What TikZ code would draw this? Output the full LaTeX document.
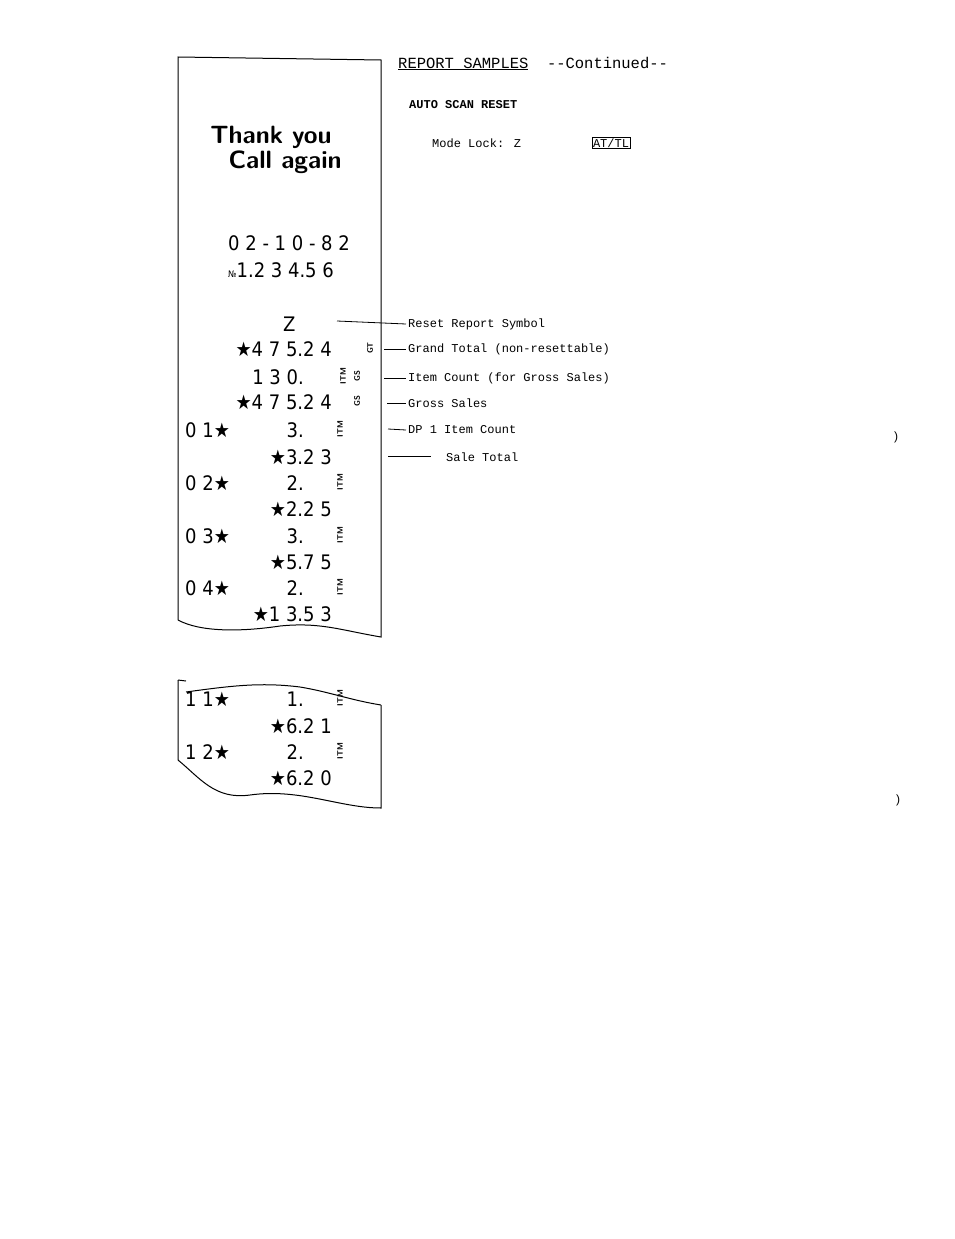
\documentclass[tikz,border=0pt]{standalone}
\usepackage{fontspec}
\setmainfont{Liberation Sans}
\newfontfamily\mono{Liberation Mono}
\newfontfamily\rcpt{DejaVu Sans Condensed}
\begin{document}
\begin{tikzpicture}[x=1pt,y=-1pt,
  paper/.style={line width=1pt},
  rn/.style={font=\rcpt\fontsize{20}{20}\selectfont, anchor=base east, inner sep=0pt},
  rl/.style={font=\rcpt\fontsize{20}{20}\selectfont, anchor=base west, inner sep=0pt},
  tag/.style={font=\sffamily\bfseries\fontsize{8}{8}\selectfont, rotate=90, inner sep=0pt},
  lab/.style={font=\mono\fontsize{12}{12}\selectfont, anchor=west, inner sep=0pt},
  ln/.style={line width=0.8pt}]
\useasboundingbox (0,0) rectangle (954,1239);
% receipt 1
\draw[paper] (178,620) -- (178,57) -- (381,60) -- (381,637)
  .. controls (340,630) and (320,622) .. (280,626)
  .. controls (240,632) and (200,632) .. (178,620);
\node[font=\sffamily\bfseries\fontsize{25}{25}\selectfont, align=left] (ty) at (276,150) {Thank you\\\ \ Call again};
\node[rl] (date) at (228,250) {0 2 - 1 0 - 8 2};
\node[rl] (no) at (228,277) {{\fontsize{9}{9}\selectfont №}1.2 3 4.5 6};
\node[rl] (z) at (283,331) {Z};
\node[rn] (gt) at (332,356) {★4 7 5.2 4};
\node[rn] (ic) at (304,384) {1 3 0.};
\node[rn] (gs) at (332,409) {★4 7 5.2 4};
\node[rl] (d1) at (185,437) {0 1★};
\node[rn] (c1) at (304,437) {3.};
\node[rn] (t1) at (332,464) {★3.2 3};
\node[rl] (d2) at (185,490) {0 2★};
\node[rn] (c2) at (304,490) {2.};
\node[rn] (t2) at (332,516) {★2.2 5};
\node[rl] (d3) at (185,543) {0 3★};
\node[rn] (c3) at (304,543) {3.};
\node[rn] (t3) at (332,569) {★5.7 5};
\node[rl] (d4) at (185,595) {0 4★};
\node[rn] (c4) at (304,595) {2.};
\node[rn] (t4) at (332,621) {★1 3.5 3};
\node[tag] (tgt) at (370,348) {GT};
\node[tag] (tim0) at (343,376) {ITM};
\node[tag] (tgs0) at (357,376) {GS};
\node[tag] (tgs) at (357,401) {GS};
\foreach \y/\n in {429/a,482/b,535/c,587/d}{\node[tag] (tm\n) at (340,\y) {ITM};}
% labels
\node[lab] (l1) at (408,324) {Reset Report Symbol};
\node[lab] (l2) at (408,349) {Grand Total (non-resettable)};
\node[lab] (l3) at (408,378) {Item Count (for Gross Sales)};
\node[lab] (l4) at (408,403) {Gross Sales};
\node[lab] (l5) at (408,430) {DP 1 Item Count};
\node[lab] (l6) at (446,457) {Sale Total};
\coordinate (s1) at (337,321); \draw[ln] (s1) -- ([xshift=-2pt]l1.west);
\coordinate (s2) at (384,349); \draw[ln] (s2) -- ([xshift=-2pt]l2.west);
\coordinate (s3) at (384,378); \draw[ln] (s3) -- ([xshift=-2pt]l3.west);
\coordinate (s4) at (387,403); \draw[ln] (s4) -- ([xshift=-2pt]l4.west);
\coordinate (s5) at (388,429); \draw[ln] (s5) -- ([xshift=-2pt]l5.west);
\coordinate (s6) at (388,456); \draw[ln] (s6) -- (431,456);
% receipt 2
\draw[paper] (178,680) -- (178,760)
  .. controls (200,778) and (215,800) .. (250,795)
  .. controls (300,788) and (340,808) .. (381,808) -- (381,705);
\draw[paper] (178,680) -- (186,681);
\draw[paper] (186,692) .. controls (230,686) and (260,682) .. (300,687)
  .. controls (330,692) and (350,700) .. (381,705);
\node[rl] (d11) at (185,706) {1 1★};
\node[rn] (c11) at (304,706) {1.};
\node[rn] (t11) at (332,733) {★6.2 1};
\node[rl] (d12) at (185,759) {1 2★};
\node[rn] (c12) at (304,759) {2.};
\node[rn] (t12) at (332,785) {★6.2 0};
\node[tag] (tm11) at (340,698) {ITM};
\node[tag] (tm12) at (340,751) {ITM};
% header
\node[font=\mono\fontsize{15.5}{15.5}\selectfont, anchor=base west, inner sep=0pt] (hd) at (398,68) {\underline{REPORT SAMPLES}\ \ --Continued--};
\node[font=\mono\bfseries\fontsize{12}{12}\selectfont, anchor=base west, inner sep=0pt] (as) at (409,108) {AUTO SCAN RESET};
\node[font=\mono\fontsize{12}{12}\selectfont, anchor=base west, inner sep=0pt] (ml) at (432,147) {Mode Lock: Z};
\node[draw, font=\mono\fontsize{12}{12}\selectfont, inner sep=1pt] (key) at (611,143) {AT/TL};
\node[font=\fontsize{12}{12}\selectfont] (p1) at (896,437) {)};
\node[font=\fontsize{12}{12}\selectfont] (p2) at (898,800) {)};
\end{tikzpicture}
\end{document}
